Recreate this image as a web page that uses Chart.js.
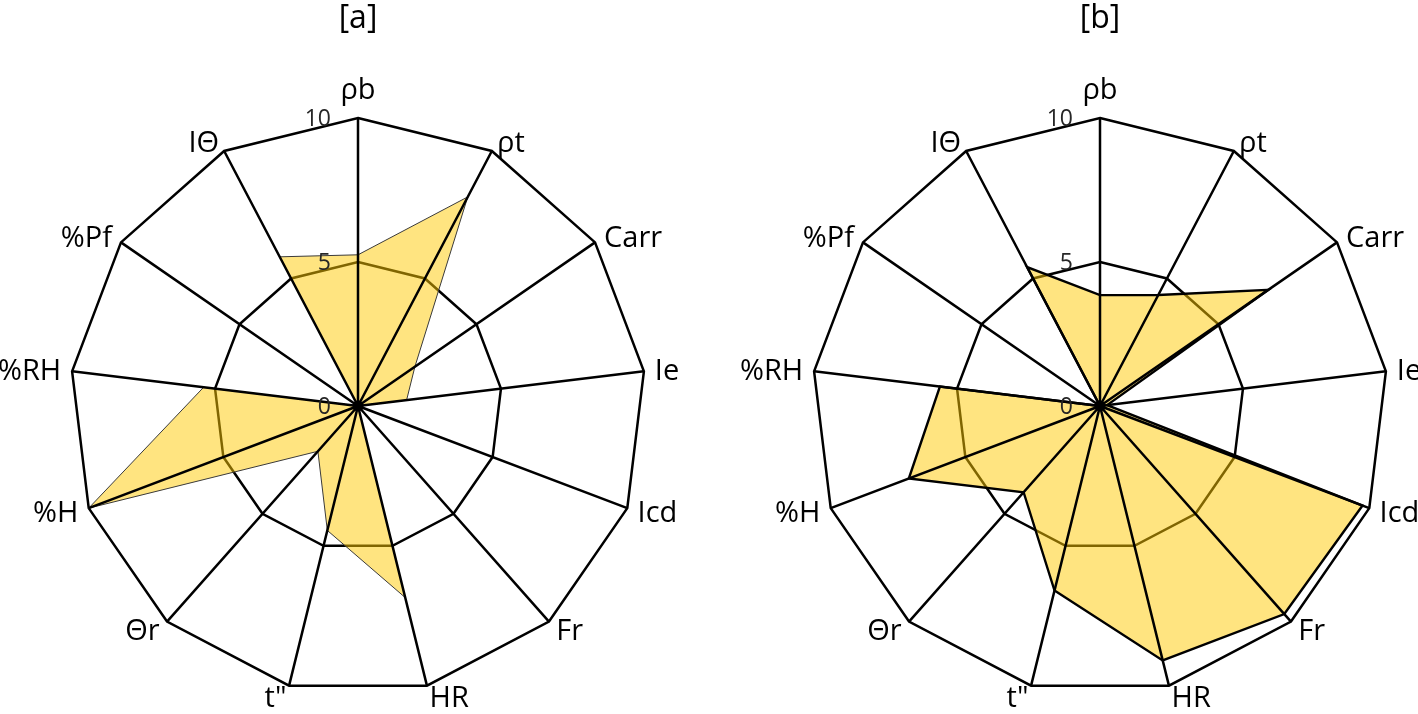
<!DOCTYPE html>
<html>
<head>
<meta charset="utf-8">
<script src="https://cdn.jsdelivr.net/npm/chart.js@4.4.1/dist/chart.umd.min.js"></script>
<style>
  html, body { margin: 0; padding: 0; background: #ffffff; }
  #wrap { position: relative; width: 1418px; height: 714px; overflow: hidden; }
  canvas { position: absolute; top: 0; }
  #chartA { left: 0; }
  #chartB { left: 718px; }
</style>
</head>
<body>
<div id="wrap">
  <canvas id="chartA" width="718" height="714"></canvas>
  <canvas id="chartB" width="700" height="714"></canvas>
</div>
<script>
// ---- data ----
const axisLabels = ['ρb', 'ρt', 'Carr', 'Ie', 'Icd', 'Fr', 'HR', 't"', 'Θr', '%H', '%RH', '%Pf', 'IΘ'];
const valuesA = [5.25, 8.2, 2.4, 1.7, 0, 0, 6.85, 4.45, 2.1, 10, 5.4, 0, 5.85];
const valuesB = [3.85, 4.35, 7.1, 0.25, 9.75, 9.65, 9.1, 6.6, 4.0, 7.1, 5.6, 0, 5.45];
const tickValues = [0, 5, 10];
const tickLabels = ['0', '5', '10'];
const panelTitles = ['[a]', '[b]'];

const FONT = '"Open Sans", "DejaVu Sans", sans-serif';
const FILL = 'rgba(255, 201, 2, 0.5)';

// spokes on top of the fill, plus axis and tick labels
const radarDecor = {
  id: 'radarDecor',
  afterDatasetsDraw(chart) {
    const r = chart.scales.r;
    const ctx = chart.ctx;
    ctx.save();
    ctx.strokeStyle = '#000';
    ctx.lineWidth = 2.5;
    ctx.beginPath();
    axisLabels.forEach((lab, i) => {
      const p = r.getPointPosition(i, r.drawingArea);
      ctx.moveTo(r.xCenter, r.yCenter);
      ctx.lineTo(p.x, p.y);
    });
    ctx.stroke();
    ctx.restore();
  },
  afterDraw(chart) {
    const r = chart.scales.r;
    const ctx = chart.ctx;
    ctx.save();

    // category labels
    const size = 29;
    ctx.font = size + 'px ' + FONT;
    ctx.fillStyle = '#000';
    ctx.textBaseline = 'alphabetic';
    axisLabels.forEach((lab, i) => {
      const p = r.getPointPosition(i, r.drawingArea + 11);
      const dx = p.x - r.xCenter;
      if (Math.abs(dx) < 1) {
        const top = r.getPointPosition(i, r.drawingArea + 19);
        ctx.textAlign = 'center';
        ctx.fillText(lab, top.x, top.y);
      } else {
        ctx.textAlign = dx > 0 ? 'left' : 'right';
        ctx.fillText(lab, p.x, p.y + size * 0.36);
      }
    });

    // value ticks, right aligned left of the first spoke
    const tsize = 23;
    ctx.font = tsize + 'px ' + FONT;
    ctx.fillStyle = '#262626';
    ctx.textAlign = 'right';
    tickValues.forEach((v, i) => {
      const p = r.getPointPositionForValue(0, v);
      ctx.fillText(tickLabels[i], p.x - 27, p.y + tsize * 0.36);
    });
    ctx.restore();
  }
};

function makeRadar(canvasId, values, title, pad, lineColor, lineWidth) {
  return new Chart(document.getElementById(canvasId), {
    type: 'radar',
    data: {
      labels: axisLabels,
      datasets: [{
        data: values,
        backgroundColor: FILL,
        borderColor: lineColor,
        borderWidth: lineWidth,
        borderJoinStyle: 'miter',
        pointRadius: 0,
        fill: true,
        tension: 0
      }]
    },
    options: {
      responsive: false,
      animation: false,
      layout: { padding: pad },
      plugins: {
        legend: { display: false },
        tooltip: { enabled: false },
        title: {
          display: true,
          text: title,
          color: '#000',
          font: { family: FONT, size: 32, weight: 'normal' },
          padding: { top: 0, bottom: 80 }
        }
      },
      scales: {
        r: {
          min: 0,
          max: 10,
          ticks: { stepSize: 5, display: false },
          grid: { color: '#000', lineWidth: 2.5 },
          angleLines: { display: false },
          pointLabels: { display: false }
        }
      }
    },
    plugins: [radarDecor]
  });
}

makeRadar('chartA', valuesA, panelTitles[0], { left: 70, right: 72, top: 0, bottom: 19 }, '#3a3a3a', 1);
makeRadar('chartB', valuesB, panelTitles[1], { left: 94, right: 30, top: 0, bottom: 19 }, '#000', 2.4);
</script>
</body>
</html>
